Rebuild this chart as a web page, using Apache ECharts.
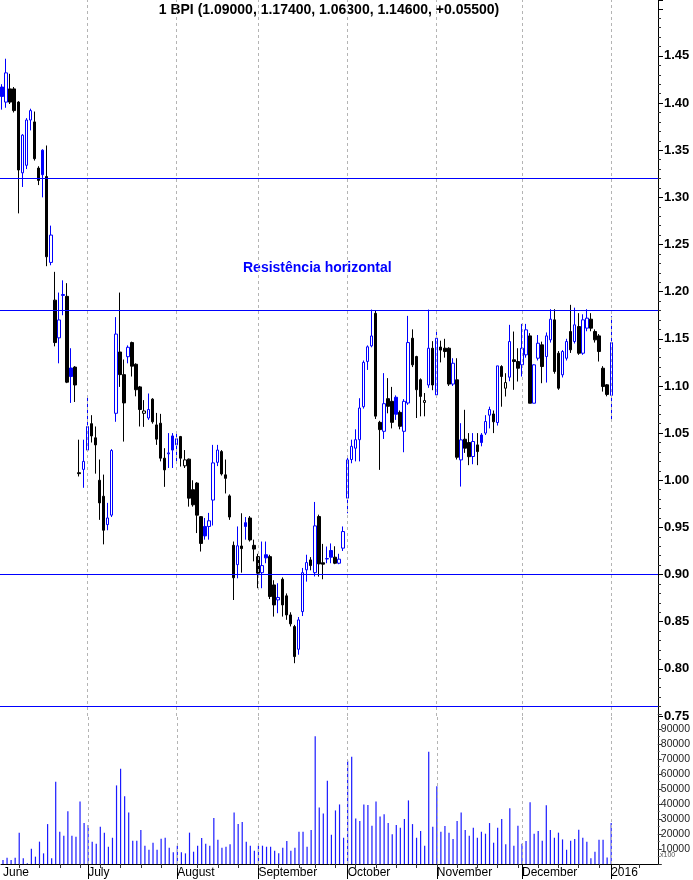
<!DOCTYPE html>
<html>
<head>
<meta charset="utf-8">
<script src="https://cdn.jsdelivr.net/npm/echarts@6/dist/echarts.min.js"></script>
<style>
html,body{margin:0;padding:0;background:#fff;}
#chart{width:693px;height:880px;}
</style>
</head>
<body>
<div id="chart"></div>
<script>
// ---- Data ----
const titleText = '1 BPI (1.09000, 1.17400, 1.06300, 1.14600, +0.05500)';
const noteText = 'Resistência horizontal';
const monthLabels = ['June', 'July', 'August', 'September', 'October', 'November', 'December', '2016'];
const monthStartIdx = [0, 21, 43, 63, 85, 107, 128, 150];
const categoryCount = 162; // trading days shown + empty space to the right
const categories = Array.from({length: categoryCount}, (_, i) => 'd' + i);

const open = [
  // June
  1.417,1.401,1.415,1.415,1.401,1.326,1.334,1.382,1.380,1.331,1.350,1.322,1.231,1.191,1.151,1.196,1.195,1.119,1.120,1.008,1.0115,
  // July
  1.032,1.060,1.045,1.000,0.983,0.953,0.963,1.071,1.136,1.112,1.131,1.146,1.123,1.099,1.071,1.066,1.086,1.0587,1.0605,1.0234,1.028,1.047,
  // August
  1.0375,1.0463,1.0153,1.0224,0.990,0.997,0.9614,0.951,0.951,0.979,1.019,1.0304,1.0057,0.9834,0.931,0.9105,0.9303,0.955,0.960,0.931,
  // September
  0.919,0.902,0.921,0.919,0.889,0.8731,0.895,0.8774,0.8572,0.8448,0.8208,0.8607,0.905,0.9155,0.902,0.9615,0.9125,0.9165,0.9255,0.9184,0.912,0.928,
  // October
  0.981,1.022,1.034,1.043,1.078,1.126,1.1425,1.177,1.0614,1.0519,1.0865,1.0837,1.088,1.072,1.0519,1.0819,1.1506,1.1312,1.1066,1.0825,1.101,1.140,
  // November
  1.0905,1.1413,1.140,1.140,1.102,1.1065,1.0216,1.0435,1.040,1.0252,1.0375,1.048,1.050,1.069,1.0703,1.0612,1.1206,1.0976,1.1093,1.1277,1.1259,
  // December
  1.1224,1.133,1.1531,1.0817,1.1294,1.1436,1.1312,1.1489,1.1701,1.1347,1.1118,1.1294,1.1577,1.1471,1.163,1.1347,1.1613,1.1708,1.1577,1.1531,1.1188,1.1012,
  // January
  1.090
];
const close = [
  1.407,1.432,1.401,1.392,1.329,1.366,1.382,1.392,1.341,1.318,1.324,1.237,1.260,1.146,1.170,1.197,1.104,1.110,1.101,1.007,1.020,
  1.057,1.047,1.0375,0.976,0.947,0.960,1.0315,1.155,1.112,1.082,1.141,1.121,1.096,1.075,1.0735,1.075,1.062,1.0436,1.0234,1.011,1.029,1.032,
  1.044,1.0234,1.0216,0.981,0.974,0.963,0.933,0.941,0.957,1.0184,1.032,1.0067,1.002,0.961,0.8966,0.9305,0.9275,0.951,0.9367,0.927,
  0.9014,0.9095,0.9177,0.8767,0.8678,0.8757,0.8678,0.8572,0.8477,0.813,0.8519,0.902,0.9127,0.9095,0.9516,0.9113,0.911,0.917,0.9184,0.912,0.9163,0.9456,
  1.0216,1.036,1.043,1.0766,1.125,1.1415,1.153,1.068,1.0537,1.0812,1.0784,1.0614,1.070,1.0572,1.0837,1.146,1.1224,1.096,1.0889,1.0845,1.140,1.101,
  1.1506,1.138,1.1365,1.102,1.1241,1.0244,1.0428,1.034,1.025,1.0411,1.0304,1.040,1.0623,1.075,1.062,1.1213,1.110,1.1036,1.1471,1.1259,1.1188,
  1.140,1.1595,1.0817,1.1224,1.1453,1.1206,1.1531,1.1708,1.1153,1.0976,1.1365,1.1471,1.1383,1.1648,1.1347,1.1701,1.1719,1.1613,1.1489,1.1365,1.0994,1.091,
  1.146
];
const low = [
  1.393,1.395,1.399,1.390,1.283,1.311,1.330,1.371,1.339,1.313,1.300,1.227,1.228,1.142,1.124,1.175,1.103,1.082,1.083,1.004,0.992,
  1.030,1.040,1.007,0.958,0.932,0.947,0.961,1.062,1.099,1.041,1.124,1.110,1.089,1.057,1.0566,1.064,1.060,1.0375,1.020,0.993,1.013,1.013,
  1.020,1.0145,1.013,0.972,0.972,0.944,0.9244,0.937,0.937,0.952,1.015,1.005,0.986,0.958,0.873,0.896,0.902,0.937,0.935,0.914,
  0.8855,0.8855,0.912,0.874,0.8554,0.859,0.8554,0.852,0.845,0.806,0.815,0.856,0.8925,0.9045,0.898,0.8978,0.895,0.912,0.912,0.911,0.911,0.925,
  0.965,1.018,1.020,1.020,1.076,1.117,1.141,1.065,1.011,1.0438,1.071,1.055,1.064,1.054,1.0297,1.080,1.120,1.066,1.0678,1.0678,1.098,1.0955,
  1.088,1.125,1.130,1.100,1.100,1.022,0.9933,1.029,1.016,1.017,1.016,1.036,1.048,1.055,1.050,1.058,1.078,1.0888,1.105,1.0959,1.1047,
  1.110,1.130,1.0817,1.0817,1.127,1.1029,1.1036,1.146,1.113,1.0959,1.109,1.127,1.135,1.145,1.133,1.133,1.158,1.158,1.146,1.1259,1.094,1.089,
  1.063
];
const high = [
  1.420,1.447,1.431,1.417,1.402,1.367,1.384,1.394,1.391,1.333,1.351,1.355,1.270,1.221,1.199,1.212,1.209,1.140,1.121,1.043,1.043,
  1.089,1.069,1.057,1.022,1.006,0.976,1.033,1.173,1.199,1.128,1.143,1.147,1.124,1.100,1.085,1.092,1.087,1.0714,1.0704,1.034,1.050,1.050,
  1.050,1.047,1.032,1.023,1.000,0.998,0.962,0.960,0.9654,1.0375,1.0375,1.032,1.022,0.985,0.935,0.951,0.965,0.961,0.962,0.937,
  0.922,0.935,0.935,0.921,0.894,0.8908,0.897,0.880,0.860,0.8466,0.855,0.907,0.921,0.9185,0.977,0.9635,0.9325,0.9297,0.933,0.930,0.922,0.951,
  1.024,1.043,1.054,1.087,1.127,1.143,1.181,1.180,1.063,1.1136,1.1083,1.099,1.090,1.074,1.086,1.1743,1.160,1.132,1.108,1.0925,1.181,1.1475,
  1.160,1.148,1.150,1.141,1.1294,1.1294,1.0605,1.0747,1.050,1.050,1.050,1.050,1.069,1.078,1.074,1.1213,1.122,1.1135,1.1648,1.1577,1.140,
  1.1658,1.1658,1.156,1.123,1.154,1.147,1.1567,1.1814,1.1814,1.137,1.138,1.150,1.186,1.183,1.1772,1.176,1.1814,1.1772,1.160,1.155,1.121,1.102,
  1.174
];
const volume = [
  2700,4200,2700,4200,20900,3800,500,10200,4900,14900,7100,26600,3800,54800,21500,18900,35100,18900,18200,41700,27300,
  26000,14900,13500,24900,20900,11500,17500,52400,63500,45100,34400,15500,15500,22600,12200,9500,14200,9500,16900,17500,10900,7800,
  12200,7800,7100,20900,8200,12200,17300,13500,12200,30600,16200,10900,11500,13100,34400,26600,28000,14900,12200,8900,
  12200,12200,11500,11500,8900,7100,10900,15300,8900,10900,21500,21500,11500,22600,85200,37700,33700,55500,19500,35700,39700,17500,
  68800,71500,30400,28600,39700,39300,25500,41700,31700,33100,27300,19800,26000,24200,30000,42400,26600,17500,22000,12200,74800,24900,
  51900,21500,25300,20900,16600,28600,34400,22600,18900,24200,17500,21500,20200,27300,14200,24200,30000,13100,37100,12200,25500,
  13500,15300,41100,20200,22000,15500,39100,22600,17500,20900,16400,9500,15500,16600,22900,17500,14900,3800,8200,16200,16200,4400,
  27300
];
const levelLines = [1.3237, 1.1814, 0.8962, 0.7618]; // horizontal blue lines
const priceTicks = {min: 0.75, interval: 0.05};
const volumeTicks = {min: 0, max: 100000, interval: 10000};

// ---- Build ----
const BLUE = '#0000ff', BLACK = '#000000';
const candleData = open.map((o, i) => {
  const c = close[i];
  const up = i === 0 ? true : c >= close[i - 1];
  const col = up ? BLUE : BLACK;
  const filled = c < o;
  const fill = filled ? col : '#ffffff';
  return {
    value: [o, c, low[i], high[i]],
    itemStyle: {color: fill, color0: fill, borderColor: col, borderColor0: col, borderWidth: 1}
  };
});
const FONT = '"Liberation Sans", Arial, sans-serif';
const monthSet = new Set(monthStartIdx);
const monthLineData = monthStartIdx.slice(1).map(i => ({xAxis: categories[i]}));
function weekTick(i) {
  if (i < 43) return i % 5 === 4;
  if (i < 75) return i % 5 === 3;
  return i % 5 === 2;
}
const priceMax = 0.75 + 716 / 943;

const chart = echarts.init(document.getElementById('chart'), null, {renderer: 'canvas'});
chart.setOption({
  animation: false,
  backgroundColor: '#ffffff',
  grid: [
    {left: 0, top: 0, width: 658, height: 716},
    {left: 0, top: 714, width: 658, height: 150}
  ],
  xAxis: [
    {type: 'category', gridIndex: 0, data: categories, boundaryGap: true,
     axisLine: {show: false}, axisTick: {show: false}, axisLabel: {show: false}, splitLine: {show: false}},
    {type: 'category', gridIndex: 1, data: categories, boundaryGap: true, position: 'bottom',
     axisLine: {show: true, lineStyle: {color: BLACK, width: 1}},
     axisTick: {show: true, alignWithLabel: true, length: 15, lineStyle: {color: BLACK},
                interval: (i) => monthSet.has(i) && i > 0},
     axisLabel: {show: true, interval: (i) => monthSet.has(i), align: 'left', margin: 3,
                 color: BLACK, fontSize: 12, fontFamily: FONT,
                 formatter: (v, i) => { const k = monthStartIdx.indexOf(i); return k >= 0 ? monthLabels[k] : ''; }},
     splitLine: {show: false}},
    {type: 'category', gridIndex: 1, data: categories, boundaryGap: true, position: 'bottom',
     axisLine: {show: false},
     axisTick: {show: true, alignWithLabel: true, length: 4, lineStyle: {color: '#333'},
                interval: (i) => weekTick(i)},
     axisLabel: {show: false}, splitLine: {show: false}}
  ],
  yAxis: [
    {type: 'value', gridIndex: 0, position: 'right', min: priceTicks.min, max: priceMax,
     interval: priceTicks.interval, scale: true,
     axisLine: {show: true, lineStyle: {color: BLACK, width: 1}},
     axisTick: {show: true, length: 5, lineStyle: {color: BLACK}},
     minorTick: {show: true, splitNumber: 5, length: 3, lineStyle: {color: '#333'}},
     axisLabel: {show: true, margin: 6, color: BLACK, fontSize: 13, fontWeight: 'bold', fontFamily: FONT,
                 showMaxLabel: false,
                 formatter: (v) => v > 1.46 ? '' : v.toFixed(2)},
     splitLine: {show: false}},
    {type: 'value', gridIndex: 1, position: 'right', min: volumeTicks.min, max: volumeTicks.max,
     interval: volumeTicks.interval,
     axisLine: {show: true, lineStyle: {color: BLACK, width: 1}},
     axisTick: {show: true, length: 4, lineStyle: {color: '#333'}},
     minorTick: {show: true, splitNumber: 2, length: 2, lineStyle: {color: '#555'}},
     axisLabel: {show: true, margin: 3, color: '#222', fontSize: 10.5, fontFamily: FONT,
                 formatter: (v) => (v <= 0 || v >= 100000) ? '' : String(v)},
     splitLine: {show: false}}
  ],
  series: [
    {type: 'candlestick', xAxisIndex: 0, yAxisIndex: 0, data: candleData, barWidth: 3,
     markLine: {silent: true, symbol: ['none', 'none'], label: {show: false}, animation: false,
       data: levelLines.map(v => ({yAxis: v, lineStyle: {color: BLUE, width: 1, type: 'solid'}}))
         .concat(monthLineData.map(d => Object.assign({}, d, {lineStyle: {color: '#b4b4b4', width: 1, type: [3, 3]}})))
     }},
    {type: 'bar', xAxisIndex: 1, yAxisIndex: 1, data: volume, barWidth: 1.2,
     itemStyle: {color: '#1a1aff'},
     markLine: {silent: true, symbol: ['none', 'none'], label: {show: false}, animation: false,
       data: monthLineData.map(d => Object.assign({}, d, {lineStyle: {color: '#b4b4b4', width: 1, type: [3, 3]}}))
     }}
  ],
  graphic: [
    {type: 'text', x: 329, y: 10, style: {text: titleText, fill: BLACK, font: 'bold 14px ' + FONT,
      textAlign: 'center', textVerticalAlign: 'middle'}},
    {type: 'text', x: 243, y: 268.5, style: {text: noteText, fill: BLUE, font: 'bold 14px ' + FONT,
      textAlign: 'left', textVerticalAlign: 'middle'}},
    {type: 'text', x: 660, y: 855, style: {text: 'x100', fill: '#555', font: '7px ' + FONT,
      textAlign: 'left', textVerticalAlign: 'middle'}}
  ]
});
</script>
</body>
</html>
